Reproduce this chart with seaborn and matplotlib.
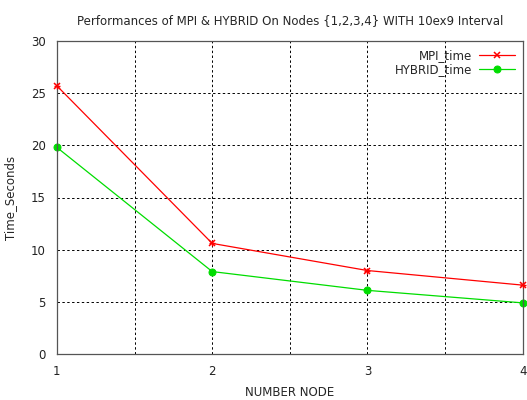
import numpy as np
import pandas as pd
import matplotlib
matplotlib.use("Agg")
import matplotlib.pyplot as plt
import seaborn as sns

# ── Data ──────────────────────────────────────────────────────────────────────
nodes = [1, 2, 3, 4]
mpi_time = [25.7, 10.6, 8.0, 6.6]
hybrid_time = [19.8, 7.9, 6.1, 4.9]

# ── Style ─────────────────────────────────────────────────────────────────────
sns.set_style("white")
plt.rcParams["font.family"] = ["DejaVu Sans"]
plt.rcParams["font.size"] = 8.5

fig = plt.figure(figsize=(5.27, 4.0), dpi=100)
ax = fig.add_axes([0.108, 0.115, 0.884, 0.7825])

sns.lineplot(x=nodes, y=mpi_time, color="#ff0000", marker="x",
             linewidth=0.9, markersize=5, markeredgewidth=1.1,
             markeredgecolor="#ff0000", label="MPI_time", ax=ax)
sns.lineplot(x=nodes, y=hybrid_time, color="#00dd00", marker="o",
             linewidth=0.9, markersize=5, markeredgecolor="#00dd00",
             label="HYBRID_time", ax=ax)

# extra "+" to make the MPI marker look like gnuplot's asterisk
ax.scatter(nodes, mpi_time, marker="+", s=25, color="#ff0000",
           linewidths=1.0, zorder=5, clip_on=False)
for l in ax.lines:
    l.set_clip_on(False)

ax.set_xlim(1, 4)
ax.set_ylim(0, 30)
ax.set_xticks([1, 1.5, 2, 2.5, 3, 3.5, 4])
ax.set_xticklabels(["1", "", "2", "", "3", "", "4"])
ax.set_yticks(range(0, 31, 5))
ax.grid(True, color="black", linestyle=(0, (2.5, 2.5)), linewidth=0.7)
ax.tick_params(axis="both", length=0, pad=8, labelsize=8.5, colors="#222222")
for s in ax.spines.values():
    s.set_color("#555555")
    s.set_linewidth(0.9)

ax.set_xlabel("NUMBER NODE", fontsize=8.5, labelpad=6)
ax.set_ylabel("Time_Seconds", fontsize=8.5, labelpad=10)
fig.suptitle("Performances of MPI & HYBRID On Nodes {1,2,3,4} WITH 10ex9 Interval",
             fontsize=8.5, y=0.965, x=0.55)

ax.legend(loc="upper right", frameon=False, markerfirst=False,
          fontsize=8.5, handlelength=3, borderaxespad=0.3,
          labelspacing=0.1, handletextpad=0.6)

fig.savefig("out.png", dpi=100)
